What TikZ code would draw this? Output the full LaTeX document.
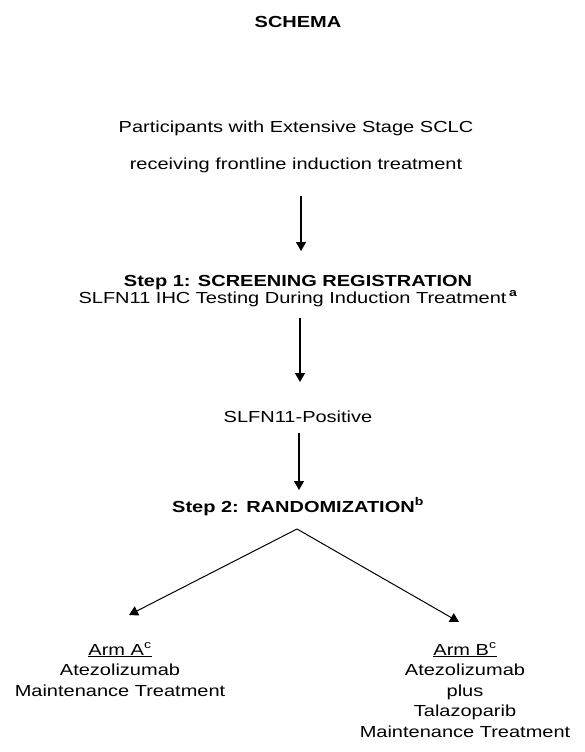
\documentclass[tikz,border=0pt]{standalone}
\usepackage{fontspec}
\setmainfont{Liberation Sans}[FakeStretch=1.25]
\usetikzlibrary{arrows.meta}
\begin{document}
\begin{tikzpicture}[x=1pt,y=-1pt,
  txt/.style={anchor=base,inner sep=0pt,font=\fontsize{16}{19}\selectfont},
  bld/.style={anchor=base,inner sep=0pt,font=\fontsize{16}{19}\selectfont\bfseries},
  arr/.style={line width=1.3pt,-{Triangle[width=10pt,length=9pt]}},
  diag/.style={line width=1pt,-{Triangle[width=10pt,length=9pt]}}]
\useasboundingbox (0,0) rectangle (585,752);
\node[bld] (title) at (298,28) {SCHEMA};
\node[txt] (p1) at (296,132) {Participants with Extensive Stage SCLC};
\node[txt] (p2) at (296,169) {receiving frontline induction treatment};
\node[bld] (s1) at (298,286) {Step 1: SCREENING REGISTRATION};
\node[txt] (s1b) at (298,303) {SLFN11 IHC Testing During Induction Treatment\,\textsuperscript{\bfseries a}};
\node[txt] (pos) at (298,422) {SLFN11-Positive};
\node[bld] (s2) at (298,512) {Step 2: RANDOMIZATION\textsuperscript{b}};
\node[txt] (aa1) at (120,655) {\underline{Arm A\textsuperscript{c}}};
\node[txt] (aa2) at (120,675.5) {Atezolizumab};
\node[txt] (aa3) at (120,696) {Maintenance Treatment};
\node[txt] (ab1) at (465,655) {\underline{Arm B\textsuperscript{c}}};
\node[txt] (ab2) at (465,675.5) {Atezolizumab};
\node[txt] (ab3) at (465,696) {plus};
\node[txt] (ab4) at (465,716.5) {Talazoparib};
\node[txt] (ab5) at (465,737) {Maintenance Treatment};
\coordinate (a1s) at (301,196);
\coordinate (a1e) at (301,251);
\coordinate (a2s) at (300,318);
\coordinate (a2e) at (300,382);
\coordinate (a3s) at (299,433);
\coordinate (a3e) at (299,490);
\coordinate (apex) at (297,529);
\coordinate (lt) at (129,615);
\coordinate (rt) at (459,622);
\draw[arr] (a1s) -- (a1e);
\draw[arr] (a2s) -- (a2e);
\draw[arr] (a3s) -- (a3e);
\draw[diag] (apex) -- (lt);
\draw[diag] (apex) -- (rt);
\end{tikzpicture}
\end{document}
